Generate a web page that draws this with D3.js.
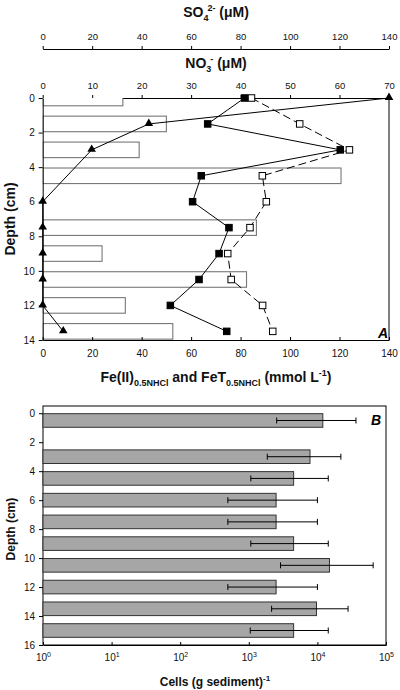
<!DOCTYPE html>
<html><head><meta charset="utf-8">
<script src="https://cdn.jsdelivr.net/npm/d3@7"></script>
<style>
html,body{margin:0;padding:0;background:#fff;}
svg{display:block;font-family:"Liberation Sans",Arial,Helvetica,sans-serif;}
</style></head>
<body>
<svg id="c" width="400" height="690"></svg>
<script>
// ---- Panel A data ----
const depthA = [0, 1.5, 3, 4.5, 6, 7.5, 9, 10.5, 12, 13.5];
const no3 = [16.2, 25, 19.5, 60.3, 0, 43.2, 12, 41.2, 16.7, 26.3];          // bars, µM (0-70)
const depthSO4 = [0, 1.5, 3, 6, 7.5, 9, 10.5, 12, 13.5];
const so4 = [140, 42.9, 19.8, 0, 0, 0, 0, 0, 8.3];                          // triangles, µM (0-140)
const fe2 = [81.6, 66.7, 120.3, 64.1, 60.6, 75.3, 71.3, 63.2, 51.6, 74.4];  // filled squares
const feT = [84.4, 103.9, 124.0, 88.8, 90.4, 83.8, 74.8, 76.2, 88.9, 93.0]; // open squares
const so4Ticks = [0, 20, 40, 60, 80, 100, 120, 140];
const no3Ticks = [0, 10, 20, 30, 40, 50, 60, 70];
const feTicks = [0, 20, 40, 60, 80, 100, 120, 140];
const depthTicksA = [0, 2, 4, 6, 8, 10, 12, 14];

// ---- Panel B data ----
const depthB = [0.5, 3, 4.5, 6, 7.5, 9, 10.5, 12, 13.5, 15];
const cells = [12000, 7800, 4500, 2500, 2500, 4500, 15000, 2500, 9700, 4500];
const cellsLo = [2550, 1860, 1070, 495, 495, 1070, 2900, 495, 2150, 1050];
const cellsHi = [36500, 22000, 14400, 10000, 10000, 14400, 65000, 10000, 28000, 14400];
const cellTicks = [1, 10, 100, 1000, 10000, 100000];
const depthTicksB = [0, 2, 4, 6, 8, 10, 12, 14, 16];

const svg = d3.select("#c");
const L = 42.7, R = 389;

// Scales A
const xSO4 = d3.scaleLinear().domain([0, 140]).range([L, R]);
const xNO3 = d3.scaleLinear().domain([0, 70]).range([L, R]);
const xFe = d3.scaleLinear().domain([0, 140]).range([L, R]);
const yA = d3.scaleLinear().domain([0, 14]).range([98, 340]);

function styleAxis(g, fs) {
  g.selectAll("path.domain").attr("stroke", "#000").attr("stroke-width", 1);
  g.selectAll(".tick line").attr("stroke", "#000");
  g.selectAll("text").attr("font-family", "Liberation Sans, Arial, sans-serif").attr("font-size", fs || 9.5).attr("fill", "#111");
}

// SO4 axis
const gSO4 = svg.append("g").attr("transform", "translate(0,49)")
  .call(d3.axisTop(xSO4).tickValues(so4Ticks).tickSizeOuter(0).tickSizeInner(3).tickPadding(6));
styleAxis(gSO4);
// NO3 axis (top border of plot)
const gNO3 = svg.append("g").attr("transform", "translate(0,98)")
  .call(d3.axisTop(xNO3).tickValues(no3Ticks).tickSizeOuter(0).tickSizeInner(3).tickPadding(6));
styleAxis(gNO3);

// SO4^2- (µM)
(function(){
  const t = svg.append("text").attr("x", 216).attr("y", 17).attr("text-anchor", "middle")
    .attr("font-weight", "bold").attr("font-size", 14).attr("fill", "#111");
  t.append("tspan").text("SO");
  t.append("tspan").text("4").attr("font-size", 9).attr("dy", 4);
  t.append("tspan").text("2-").attr("font-size", 9).attr("dy", -10).attr("dx", -1);
  t.append("tspan").text(" (μM)").attr("dy", 6);
})();
(function(){
  const t = svg.append("text").attr("x", 216).attr("y", 68).attr("text-anchor", "middle")
    .attr("font-weight", "bold").attr("font-size", 14).attr("fill", "#111");
  t.append("tspan").text("NO");
  t.append("tspan").text("3").attr("font-size", 9).attr("dy", 4);
  t.append("tspan").text("-").attr("font-size", 9).attr("dy", -10).attr("dx", -1);
  t.append("tspan").text(" (μM)").attr("dy", 6);
})();
(function(){
  const t = svg.append("text").attr("x", 216).attr("y", 382).attr("text-anchor", "middle")
    .attr("font-weight", "bold").attr("font-size", 14).attr("fill", "#111");
  t.append("tspan").text("Fe(II)");
  t.append("tspan").text("0.5NHCl").attr("font-size", 9).attr("dy", 4);
  t.append("tspan").text(" and FeT").attr("dy", -4);
  t.append("tspan").text("0.5NHCl").attr("font-size", 9).attr("dy", 4);
  t.append("tspan").text(" (mmol L").attr("dy", -4);
  t.append("tspan").text("-1").attr("font-size", 9).attr("dy", -6);
  t.append("tspan").text(")").attr("dy", 6);
})();

// clip for A
svg.append("clipPath").attr("id", "clipA").append("rect")
  .attr("x", L).attr("y", yA(0)).attr("width", R - L).attr("height", yA(14) - yA(0));

const gA = svg.append("g");
// NO3 bars
gA.append("g").attr("clip-path", "url(#clipA)").selectAll("rect").data(depthA).join("rect")
  .attr("x", L)
  .attr("y", d => yA(d - 0.45))
  .attr("width", (d, i) => xNO3(no3[i]) - L)
  .attr("height", yA(0.9) - yA(0))
  .attr("fill", "#fff").attr("stroke", "#777").attr("stroke-width", 1.1)
  .attr("display", (d, i) => no3[i] > 0 ? null : "none");

// Left axis A
const gyA = svg.append("g").attr("transform", `translate(${L},0)`)
  .call(d3.axisLeft(yA).tickValues(depthTicksA).tickSizeOuter(0).tickSizeInner(4).tickPadding(4));
styleAxis(gyA, 10);
// Bottom axis A
const gxA = svg.append("g").attr("transform", `translate(0,${yA(14)})`)
  .call(d3.axisBottom(xFe).tickValues(feTicks).tickSizeOuter(0).tickSizeInner(-3).tickPadding(10));
styleAxis(gxA, 10);
// right border
svg.append("line").attr("x1", R).attr("x2", R).attr("y1", yA(0)).attr("y2", yA(14)).attr("stroke", "#000");

// SO4 line
const lineSO4 = d3.line().x((d, i) => xSO4(so4[i])).y(d => yA(d));
gA.append("path").datum(depthSO4).attr("d", lineSO4).attr("fill", "none").attr("stroke", "#000").attr("stroke-width", 1);
// FeT dashed
const lineFeT = d3.line().x((d, i) => xFe(feT[i])).y(d => yA(d));
gA.append("path").datum(depthA).attr("d", lineFeT).attr("fill", "none").attr("stroke", "#000")
  .attr("stroke-width", 1).attr("stroke-dasharray", "8,4");
// Fe(II) solid
const lineFe2 = d3.line().x((d, i) => xFe(fe2[i])).y(d => yA(d));
gA.append("path").datum(depthA).attr("d", lineFe2).attr("fill", "none").attr("stroke", "#000").attr("stroke-width", 1);

// markers
const tri = d3.symbol().type(d3.symbolTriangle).size(32);
gA.append("g").selectAll("path").data(depthSO4).join("path")
  .attr("d", tri).attr("transform", (d, i) => `translate(${xSO4(so4[i])},${yA(d) - 0.5})`).attr("fill", "#000");
const sq = 6.5;
gA.append("g").selectAll("rect").data(depthA).join("rect")
  .attr("x", (d, i) => xFe(feT[i]) - sq / 2).attr("y", d => yA(d) - sq / 2)
  .attr("width", sq).attr("height", sq).attr("fill", "#fff").attr("stroke", "#000").attr("stroke-width", 1);
gA.append("g").selectAll("rect").data(depthA).join("rect")
  .attr("x", (d, i) => xFe(fe2[i]) - sq / 2).attr("y", d => yA(d) - sq / 2)
  .attr("width", sq).attr("height", sq).attr("fill", "#000").attr("stroke", "#000").attr("stroke-width", 1);

svg.append("text").attr("x", 388).attr("y", 338).attr("text-anchor", "end")
  .attr("font-weight", "bold").attr("font-style", "italic").attr("font-size", 14).text("A");

// Y label A
svg.append("text").attr("transform", `translate(15,${yA(7)}) rotate(-90)`).attr("text-anchor", "middle")
  .attr("font-weight", "bold").attr("font-size", 14).attr("fill", "#111").text("Depth (cm)");

// ---- Panel B ----
const LB = 43, RB = 386;
const xB = d3.scaleLog().domain([1, 1e5]).range([LB, RB]);
const yB = d3.scaleLinear().domain([-0.5, 16]).range([406, 645]);

svg.append("rect").attr("x", LB).attr("y", yB(-0.5)).attr("width", RB - LB).attr("height", yB(16) - yB(-0.5))
  .attr("fill", "none").attr("stroke", "#000").attr("stroke-width", 1);

const gB = svg.append("g");
gB.selectAll("rect").data(depthB).join("rect")
  .attr("x", LB).attr("y", d => yB(d - 0.47))
  .attr("width", (d, i) => xB(cells[i]) - LB)
  .attr("height", yB(0.94) - yB(0))
  .attr("fill", "#a6a6a6").attr("stroke", "#333").attr("stroke-width", 1);
// error bars
const eb = gB.append("g").selectAll("g").data(depthB).join("g");
eb.append("line").attr("x1", (d, i) => xB(cellsLo[i])).attr("x2", (d, i) => xB(cellsHi[i]))
  .attr("y1", d => yB(d)).attr("y2", d => yB(d)).attr("stroke", "#000");
eb.append("line").attr("x1", (d, i) => xB(cellsLo[i])).attr("x2", (d, i) => xB(cellsLo[i]))
  .attr("y1", d => yB(d) - 3).attr("y2", d => yB(d) + 3).attr("stroke", "#000");
eb.append("line").attr("x1", (d, i) => xB(cellsHi[i])).attr("x2", (d, i) => xB(cellsHi[i]))
  .attr("y1", d => yB(d) - 3).attr("y2", d => yB(d) + 3).attr("stroke", "#000");

const gyB = svg.append("g").attr("transform", `translate(${LB},0)`)
  .call(d3.axisLeft(yB).tickValues(depthTicksB).tickSizeOuter(0).tickSizeInner(4).tickPadding(4));
styleAxis(gyB, 10);
gyB.select("path.domain").remove();

const gxB = svg.append("g").attr("transform", `translate(0,${yB(16)})`)
  .call(d3.axisBottom(xB).tickValues(cellTicks).tickSizeOuter(0).tickSizeInner(-3).tickPadding(9).tickFormat(""));
styleAxis(gxB, 10);
gxB.selectAll(".tick").each(function(d) {
  const t = d3.select(this).append("text").attr("y", 16).attr("text-anchor", "middle")
    .attr("font-size", 10).attr("fill", "#111");
  t.append("tspan").text("10");
  t.append("tspan").text(Math.round(Math.log10(d))).attr("font-size", 7).attr("dy", -4);
});

svg.append("text").attr("x", 386 - 5).attr("y", yB(0.5) + 5).attr("text-anchor", "end")
  .attr("font-weight", "bold").attr("font-style", "italic").attr("font-size", 14).text("B");

svg.append("text").attr("transform", `translate(15,${yB(8)}) rotate(-90)`).attr("text-anchor", "middle")
  .attr("font-weight", "bold").attr("font-size", 12).attr("fill", "#111").text("Depth (cm)");

(function(){
  const t = svg.append("text").attr("x", 215).attr("y", 686).attr("text-anchor", "middle")
    .attr("font-weight", "bold").attr("font-size", 12).attr("fill", "#111");
  t.append("tspan").text("Cells (g sediment)");
  t.append("tspan").text("-1").attr("font-size", 8).attr("dy", -5);
})();
</script>
</body></html>
